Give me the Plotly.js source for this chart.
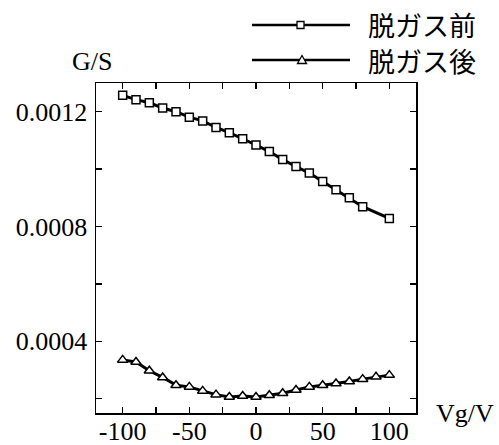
<!DOCTYPE html>
<html>
<head>
<meta charset="utf-8">
<script src="https://cdn.plot.ly/plotly-3.0.1.min.js"></script>
<style>html,body{margin:0;padding:0;background:#fff;}#chart{width:499px;height:445px;}</style>
</head>
<body>
<div id="chart"></div>
<script>
// Data
const vgBefore = [-100,-90,-80,-70,-60,-50,-40,-30,-20,-10,0,10,20,30,40,50,60,70,80,100];
const gBefore = [0.001257,0.001242,0.001231,0.001213,0.001200,0.001181,0.001168,0.001145,0.001127,0.001106,0.001084,0.001061,0.001033,0.001009,0.000986,0.000957,0.000928,0.000900,0.000869,0.000828];
const vgAfter = [-100,-90,-80,-70,-60,-50,-40,-30,-20,-10,0,10,20,30,40,50,60,70,80,90,100];
const gAfter = [0.000335,0.000328,0.000297,0.000274,0.000247,0.000241,0.000227,0.000214,0.000206,0.000209,0.000206,0.000212,0.000219,0.000230,0.000241,0.000247,0.000253,0.000260,0.000268,0.000276,0.000282];
const seriesNames = ['脱ガス前','脱ガス後'];
const xTicks = [-100,-50,0,50,100];
const yTicks = [0.0004,0.0008,0.0012];

const W = 499, H = 445, ML = 96, MR = 83, MT = 83, MB = 32;
const PW = W - ML - MR, PH = H - MT - MB;
const px = v => (v - ML) / PW;
const py = v => (H - MB - v) / PH;

const serifFont = 'Liberation Serif';
const cjkFont = 'Noto Sans CJK JP';

const traces = [
  {x: vgBefore, y: gBefore, name: seriesNames[0], type: 'scatter', mode: 'lines+markers',
   line: {color: '#000', width: 3}, marker: {symbol: 'square', size: 8, color: '#fff', line: {color: '#000', width: 1.5}}},
  {x: vgAfter, y: gAfter, name: seriesNames[1], type: 'scatter', mode: 'lines+markers',
   line: {color: '#000', width: 3}, marker: {symbol: 'triangle-up', size: 9, color: '#fff', line: {color: '#000', width: 1.5}}}
];

// manual legend
const legY = [25, 60];
const shapes = [];
legY.forEach((yy) => {
  shapes.push({type: 'line', xref: 'paper', yref: 'paper', x0: px(252), x1: px(350), y0: py(yy), y1: py(yy), line: {color: '#000', width: 2.5}});
});
shapes.push({type: 'rect', xref: 'paper', yref: 'paper', x0: px(297), x1: px(304), y0: py(28.5), y1: py(21.5), fillcolor: '#fff', line: {color: '#000', width: 1.3}});
shapes.push({type: 'path', xref: 'paper', yref: 'paper',
  path: 'M ' + px(297.5) + ' ' + py(63.5) + ' L ' + px(306.5) + ' ' + py(63.5) + ' L ' + px(302) + ' ' + py(55.5) + ' Z',
  fillcolor: '#fff', line: {color: '#000', width: 1.3}});

const annotations = [
  {text: seriesNames[0], xref: 'paper', yref: 'paper', x: px(366), y: py(24), xanchor: 'left', yanchor: 'middle', showarrow: false, font: {family: cjkFont, size: 27, color: '#000'}},
  {text: seriesNames[1], xref: 'paper', yref: 'paper', x: px(366), y: py(60), xanchor: 'left', yanchor: 'middle', showarrow: false, font: {family: cjkFont, size: 27, color: '#000'}},
  {text: 'G/S', xref: 'paper', yref: 'paper', x: px(92), y: py(62), xanchor: 'center', yanchor: 'middle', showarrow: false, font: {family: serifFont, size: 26, color: '#000'}},
  {text: 'Vg/V', xref: 'paper', yref: 'paper', x: px(465), y: py(413), xanchor: 'center', yanchor: 'middle', showarrow: false, font: {family: serifFont, size: 26, color: '#000'}}
];

const layout = {
  width: W, height: H,
  margin: {l: ML, r: MR, t: MT, b: MB, pad: 0},
  paper_bgcolor: '#fff', plot_bgcolor: '#fff',
  showlegend: false,
  font: {family: serifFont, size: 25, color: '#000'},
  xaxis: {range: [-120, 120], tickmode: 'array', tickvals: xTicks, ticktext: xTicks.map(String),
    ticks: 'inside', ticklen: 6, tickwidth: 1.3, tickcolor: '#000', ticklabelstandoff: -6,
    minor: {dtick: 25, tick0: 0, ticks: 'inside', ticklen: 6, tickwidth: 1.3, tickcolor: '#000', showgrid: false},
    showline: true, linecolor: '#000', linewidth: 1.5, mirror: 'ticks', showgrid: false, zeroline: false,
    tickfont: {family: serifFont, size: 26, color: '#000'}},
  yaxis: {range: [0.00015, 0.0013], tickmode: 'array', tickvals: yTicks, ticktext: yTicks.map(v => v.toFixed(4)),
    ticks: 'inside', ticklen: 6, tickwidth: 1.3, tickcolor: '#000', ticklabelstandoff: 2,
    minor: {dtick: 0.0002, tick0: 0, ticks: 'inside', ticklen: 6, tickwidth: 1.3, tickcolor: '#000', showgrid: false},
    showline: true, linecolor: '#000', linewidth: 1.5, mirror: 'ticks', showgrid: false, zeroline: false,
    tickfont: {family: serifFont, size: 26, color: '#000'}},
  shapes: shapes,
  annotations: annotations
};

Plotly.newPlot('chart', traces, layout, {displayModeBar: false, staticPlot: true});
</script>
</body>
</html>
